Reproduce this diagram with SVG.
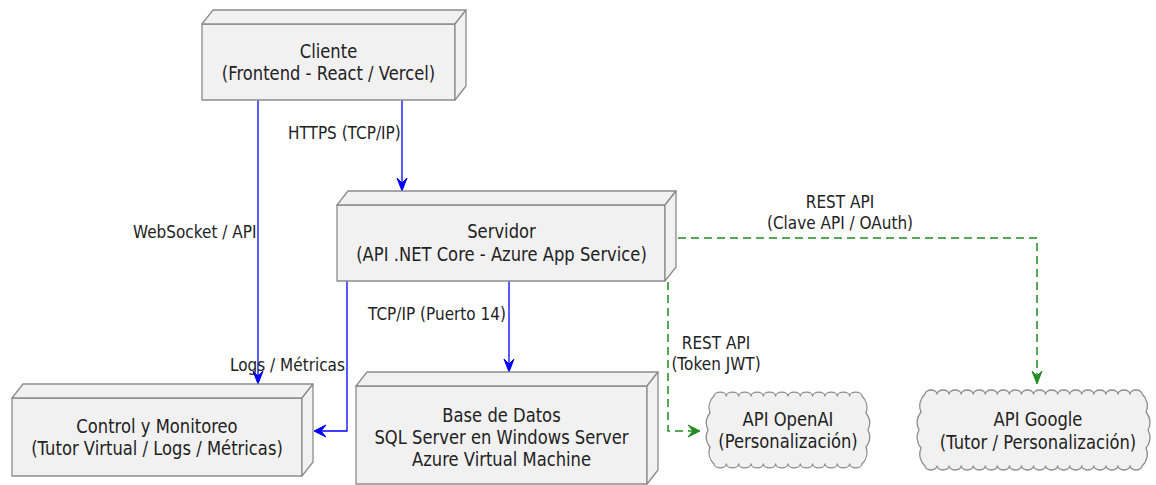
<svg xmlns="http://www.w3.org/2000/svg" width="1156" height="485" viewBox="0 0 1156 485">
<style>
.box{fill:#F1F1F1;stroke:#8c8c8c;stroke-width:1.3;stroke-linejoin:round}
.nt{font-family:"DejaVu Sans","Liberation Sans",sans-serif;font-size:19.5px;fill:#222;text-anchor:middle}
.et{font-family:"DejaVu Sans","Liberation Sans",sans-serif;font-size:18.2px;fill:#222}
.etm{text-anchor:middle}
.bl{fill:none;stroke:#0000FF;stroke-width:1.3}
.bh{fill:#0000FF;stroke:#0000FF;stroke-width:1}
.gl{fill:none;stroke:#228B22;stroke-width:1.5;stroke-dasharray:8 5}
.gh{fill:#228B22;stroke:#228B22;stroke-width:1}
</style>
<rect width="1156" height="485" fill="#FFFFFF"/>
<g id="connectors">
  <path class="bl" d="M258,100 L258,382"/>
  <path class="bh" d="M258,384 L253,371 L258,376 L263,371 Z"/>
  <path class="bl" d="M402,100 L402,189"/>
  <path class="bh" d="M402,191 L397,178 L402,183 L407,178 Z"/>
  <path class="bl" d="M347,281 L347,431 L316,431"/>
  <path class="bh" d="M314,431 L326,425 L321,431 L326,437 Z"/>
  <path class="bl" d="M509,281 L509,370"/>
  <path class="bh" d="M509,372 L504,359 L509,364 L514,359 Z"/>
  <path class="gl" d="M668,282 L668,431 L698,431"/>
  <path class="gh" d="M700,431 L688,425 L693,431 L688,437 Z"/>
  <path class="gl" d="M678,238 L1037,238 L1037,382"/>
  <path class="gh" d="M1037,384 L1032,371 L1037,376 L1042,371 Z"/>
  <text class="et" transform="translate(288,139) scale(0.84,1)">HTTPS (TCP/IP)</text>
  <text class="et" transform="translate(133,238) scale(0.84,1)">WebSocket / API</text>
  <text class="et" transform="translate(230,371) scale(0.84,1)">Logs / Métricas</text>
  <text class="et" transform="translate(368,320) scale(0.84,1)">TCP/IP (Puerto 14)</text>
  <text class="et etm" transform="translate(840,208) scale(0.84,1)"><tspan x="0">REST API</tspan><tspan x="0" dy="21">(Clave API / OAuth)</tspan></text>
  <text class="et etm" transform="translate(716,349) scale(0.84,1)"><tspan x="0">REST API</tspan><tspan x="0" dy="21">(Token JWT)</tspan></text>
</g>
<g id="cliente">
  <rect class="box" x="202" y="24" width="253" height="76"/>
  <path class="box" d="M202,24 L213,10 L466,10 L455,24 Z"/>
  <path class="box" d="M455,24 L466,10 L466,86 L455,100 Z"/>
  <text class="nt" transform="translate(328.5,57.5) scale(0.84,1)"><tspan x="0">Cliente</tspan><tspan x="0" dy="23">(Frontend - React / Vercel)</tspan></text>
</g>
<g id="servidor">
  <rect class="box" x="337" y="205" width="328" height="76"/>
  <path class="box" d="M337,205 L348,191 L676,191 L665,205 Z"/>
  <path class="box" d="M665,205 L676,191 L676,267 L665,281 Z"/>
  <text class="nt" transform="translate(501.5,238) scale(0.84,1)"><tspan x="0">Servidor</tspan><tspan x="0" dy="23">(API .NET Core - Azure App Service)</tspan></text>
</g>
<g id="control">
  <rect class="box" x="12" y="398" width="290" height="78"/>
  <path class="box" d="M12,398 L23,384 L313,384 L302,398 Z"/>
  <path class="box" d="M302,398 L313,384 L313,462 L302,476 Z"/>
  <text class="nt" transform="translate(157,432.5) scale(0.84,1)"><tspan x="0">Control y Monitoreo</tspan><tspan x="0" dy="23">(Tutor Virtual / Logs / Métricas)</tspan></text>
</g>
<g id="basedatos">
  <rect class="box" x="356" y="386" width="291" height="98"/>
  <path class="box" d="M356,386 L367,372 L658,372 L647,386 Z"/>
  <path class="box" d="M647,386 L658,372 L658,470 L647,484 Z"/>
  <text class="nt" transform="translate(501.5,421.5) scale(0.84,1)"><tspan x="0">Base de Datos</tspan><tspan x="0" dy="22.5">SQL Server en Windows Server</tspan><tspan x="0" dy="22.5">Azure Virtual Machine</tspan></text>
</g>
<g id="openai">
  <path class="box" d="M714,396 a6.17,4 0 0 1 12.33,0 a6.17,4 0 0 1 12.33,0 a6.17,4 0 0 1 12.33,0 a6.17,4 0 0 1 12.33,0 a6.17,4 0 0 1 12.33,0 a6.17,4 0 0 1 12.33,0 a6.17,4 0 0 1 12.33,0 a6.17,4 0 0 1 12.33,0 a6.17,4 0 0 1 12.33,0 a6.17,4 0 0 1 12.33,0 a6.17,4 0 0 1 12.33,0 a6.17,4 0 0 1 12.33,0 a16,16 0 0 1 4,17 a16,16 0 0 1 2,17 a16,16 0 0 1 -2,17 a16,16 0 0 1 -4,17 a6.17,4 0 0 1 -12.33,0 a6.17,4 0 0 1 -12.33,0 a6.17,4 0 0 1 -12.33,0 a6.17,4 0 0 1 -12.33,0 a6.17,4 0 0 1 -12.33,0 a6.17,4 0 0 1 -12.33,0 a6.17,4 0 0 1 -12.33,0 a6.17,4 0 0 1 -12.33,0 a6.17,4 0 0 1 -12.33,0 a6.17,4 0 0 1 -12.33,0 a6.17,4 0 0 1 -12.33,0 a6.17,4 0 0 1 -12.33,0 a16,16 0 0 1 -4,-17 a16,16 0 0 1 -2,-17 a16,16 0 0 1 2,-17 a16,16 0 0 1 4,-17 Z"/>
  <text class="nt" transform="translate(788,426) scale(0.84,1)"><tspan x="0">API OpenAI</tspan><tspan x="0" dy="22">(Personalización)</tspan></text>
</g>
<g id="google">
  <path class="box" d="M925,394 a6.03,4 0 0 1 12.06,0 a6.03,4 0 0 1 12.06,0 a6.03,4 0 0 1 12.06,0 a6.03,4 0 0 1 12.06,0 a6.03,4 0 0 1 12.06,0 a6.03,4 0 0 1 12.06,0 a6.03,4 0 0 1 12.06,0 a6.03,4 0 0 1 12.06,0 a6.03,4 0 0 1 12.06,0 a6.03,4 0 0 1 12.06,0 a6.03,4 0 0 1 12.06,0 a6.03,4 0 0 1 12.06,0 a6.03,4 0 0 1 12.06,0 a6.03,4 0 0 1 12.06,0 a6.03,4 0 0 1 12.06,0 a6.03,4 0 0 1 12.06,0 a6.03,4 0 0 1 12.06,0 a6.03,4 0 0 1 12.06,0 a16,16 0 0 1 4,18 a16,16 0 0 1 2,18 a16,16 0 0 1 -2,18 a16,16 0 0 1 -4,18 a6.03,4 0 0 1 -12.06,0 a6.03,4 0 0 1 -12.06,0 a6.03,4 0 0 1 -12.06,0 a6.03,4 0 0 1 -12.06,0 a6.03,4 0 0 1 -12.06,0 a6.03,4 0 0 1 -12.06,0 a6.03,4 0 0 1 -12.06,0 a6.03,4 0 0 1 -12.06,0 a6.03,4 0 0 1 -12.06,0 a6.03,4 0 0 1 -12.06,0 a6.03,4 0 0 1 -12.06,0 a6.03,4 0 0 1 -12.06,0 a6.03,4 0 0 1 -12.06,0 a6.03,4 0 0 1 -12.06,0 a6.03,4 0 0 1 -12.06,0 a6.03,4 0 0 1 -12.06,0 a6.03,4 0 0 1 -12.06,0 a6.03,4 0 0 1 -12.06,0 a16,16 0 0 1 -4,-18 a16,16 0 0 1 -2,-18 a16,16 0 0 1 2,-18 a16,16 0 0 1 4,-18 Z"/>
  <text class="nt" transform="translate(1038,426) scale(0.84,1)"><tspan x="0">API Google</tspan><tspan x="0" dy="23">(Tutor / Personalización)</tspan></text>
</g>
</svg>
